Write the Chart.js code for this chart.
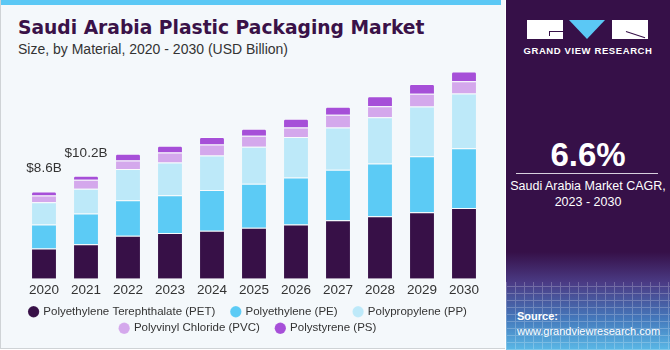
<!DOCTYPE html>
<html>
<head>
<meta charset="utf-8">
<script src="https://cdn.jsdelivr.net/npm/chart.js@4.4.1/dist/chart.umd.min.js"></script>
<style>
  html, body { margin: 0; padding: 0; }
  body { width: 670px; height: 350px; position: relative; overflow: hidden; background: #ffffff; font-family: "Liberation Sans", Arial, sans-serif; }
  #left { position: absolute; left: 0; top: 0; width: 505px; height: 349px; background: #f4f8fb; border-left: 1px solid #cfd3d6; border-bottom: 1px solid #cfd3d6; box-sizing: border-box; }
  #strip { position: absolute; left: 0; top: 0; width: 500px; height: 5px; background: #5bc8f5; }
  #title { position: absolute; left: 17px; top: 17px; font-family: "DejaVu Sans", sans-serif; font-size: 18.7px; font-weight: bold; color: #3a1248; }
  #subtitle { position: absolute; left: 17px; top: 41px; font-size: 14px; color: #333; }
  #chartBox { position: absolute; left: 0; top: 50px; width: 505px; height: 300px; }
  #right { position: absolute; left: 506px; top: 0; width: 164px; height: 350px;
    background: linear-gradient(to bottom, #361048 0%, #361048 72%, #4b3c86 81%, #4478bb 91%, #5ab8e6 100%); overflow: hidden; }
  #grid { position: absolute; left: 0; top: 282px; width: 164px; height: 68px; opacity: 0.22;
    background-image: repeating-linear-gradient(90deg, #ffffff 0 1px, transparent 1px 9px), repeating-linear-gradient(0deg, #ffffff 0 1px, transparent 1px 7px); }
  .blk { position: absolute; background: #ffffff; }
  #tri { position: absolute; left: 63px; top: 20px; width: 0; height: 0; border-left: 18px solid transparent; border-right: 18px solid transparent; border-top: 19px solid #5bc8f5; }
  #gvr { position: absolute; left: 0; width: 164px; top: 45px; text-align: center; color: #fff; font-size: 9.5px; font-weight: bold; letter-spacing: 0.6px; }
  #cagr { position: absolute; left: 0; width: 164px; top: 136px; text-align: center; color: #fff; font-size: 33px; font-weight: bold; }
  #rule { position: absolute; left: 10px; width: 142px; top: 173px; height: 1px; background: #d8d0de; }
  #cagrText { position: absolute; left: 0; width: 164px; top: 178px; text-align: center; color: #fff; font-size: 12.5px; line-height: 16px; }
  #src { position: absolute; left: 11px; top: 309px; color: #fff; font-size: 11px; line-height: 14.5px; }
</style>
</head>
<body>
<div id="left">
  <div id="strip"></div>
  <div id="title">Saudi Arabia Plastic Packaging Market</div>
  <div id="subtitle">Size, by Material, 2020 - 2030 (USD Billion)</div>
  <div id="chartBox"><canvas id="marketChart"></canvas></div>
</div>
<div id="right">
  <div id="grid"></div>
  <div class="blk" style="left:21px;top:20px;width:36px;height:19px;"></div>
  <div style="position:absolute;left:43px;top:31px;width:14px;height:1px;background:#361048;"></div>
  <div style="position:absolute;left:43px;top:31px;width:1px;height:5px;background:#361048;"></div>
  <div id="tri"></div>
  <div class="blk" style="left:106px;top:20px;width:36px;height:19px;"></div>
  <div style="position:absolute;left:120px;top:31px;width:20px;height:1px;background:#361048;transform:rotate(18deg);transform-origin:left;"></div>
  <div id="gvr">GRAND VIEW RESEARCH</div>
  <div id="cagr">6.6%</div>
  <div id="rule"></div>
  <div id="cagrText">Saudi Arabia Market CAGR,<br>2023 - 2030</div>
  <div id="src"><b>Source:</b><br>www.grandviewresearch.com</div>
</div>
<script>
// values (USD Billion)
var years = ['2020', '2021', '2022', '2023', '2024', '2025', '2026', '2027', '2028', '2029', '2030'];
var petValues = [3.00, 3.40, 4.26, 4.52, 4.75, 5.05, 5.35, 5.77, 6.17, 6.56, 7.00];
var peValues  = [2.35, 3.04, 3.50, 3.72, 4.03, 4.33, 4.65, 5.01, 5.22, 5.54, 5.90];
var ppValues  = [2.21, 2.44, 3.07, 3.24, 3.40, 3.66, 3.99, 4.16, 4.55, 4.92, 5.39];
var pvcValues = [0.66, 0.89, 0.86, 0.99, 1.09, 1.09, 0.96, 1.25, 1.09, 1.26, 1.22];
var psValues  = [0.40, 0.40, 0.66, 0.66, 0.72, 0.69, 0.86, 0.79, 0.99, 0.95, 0.96];
var totalLabels = ['$8.6B', '$10.2B', '', '', '', '', '', '', '', '', ''];

document.addEventListener('DOMContentLoaded', function () {
    const canvas = document.getElementById('marketChart');
    const ctx = canvas.getContext('2d');

    // 柱顶总值标签
    const totalLabelPlugin = {
        id: 'totalLabels',
        afterDatasetsDraw: function (chart) {
            const c = chart.ctx;
            const xScale = chart.scales.x;
            const yScale = chart.scales.y;
            c.save();
            c.font = '13.5px "Liberation Sans", Arial, sans-serif';
            c.fillStyle = '#333333';
            c.textAlign = 'center';
            c.textBaseline = 'middle';
            totalLabels.forEach(function (label, i) {
                if (!label) return;
                var total = 0;
                chart.data.datasets.forEach(function (ds) { total += ds.data[i]; });
                c.fillText(label, xScale.getPixelForValue(i), yScale.getPixelForValue(total) - 23);
            });
            c.restore();
        }
    };

    function series(label, data, color, radius) {
        return {
            label: label,
            data: data,
            backgroundColor: color,
            borderColor: 'rgba(255,255,255,0.45)',
            borderWidth: { top: 1 },
            borderSkipped: false,
            borderRadius: radius ? { topLeft: 2, topRight: 2 } : 0,
            barPercentage: 0.57,
            categoryPercentage: 1.0
        };
    }

    new Chart(ctx, {
        type: 'bar',
        data: {
            labels: years,
            datasets: [
                series('Polyethylene Terephthalate (PET)', petValues, '#371047'),
                series('Polyethylene (PE)', peValues, '#5ccbf5'),
                series('Polypropylene (PP)', ppValues, '#bde9f9'),
                series('Polyvinyl Chloride (PVC)', pvcValues, '#d4a8ec'),
                series('Polystyrene (PS)', psValues, '#a64fd8', true)
            ]
        },
        options: {
            responsive: true,
            maintainAspectRatio: false,
            animation: false,
            layout: { padding: { left: 22, right: 21, top: 6, bottom: 6 } },
            scales: {
                x: {
                    stacked: true,
                    grid: { display: false, drawTicks: false },
                    border: { display: false },
                    ticks: { color: '#333333', padding: 3, font: { size: 13.5, family: '"Liberation Sans", Arial, sans-serif' } }
                },
                y: {
                    stacked: true,
                    display: false,
                    min: 0,
                    max: 22
                }
            },
            plugins: {
                legend: {
                    position: 'bottom',
                    labels: {
                        usePointStyle: true,
                        pointStyle: 'circle',
                        boxWidth: 8,
                        boxHeight: 8,
                        padding: 5,
                        color: '#333333',
                        font: { size: 11.5, family: '"Liberation Sans", Arial, sans-serif' },
                        // 图例项之间留出更宽的间距
                        generateLabels: function (chart) {
                            var items = Chart.defaults.plugins.legend.labels.generateLabels(chart);
                            items.forEach(function (item) { item.text = item.text + '\u2002\u2002'; });
                            return items;
                        }
                    }
                },
                tooltip: { enabled: false }
            }
        },
        plugins: [totalLabelPlugin]
    });
});
</script>
</body>
</html>
